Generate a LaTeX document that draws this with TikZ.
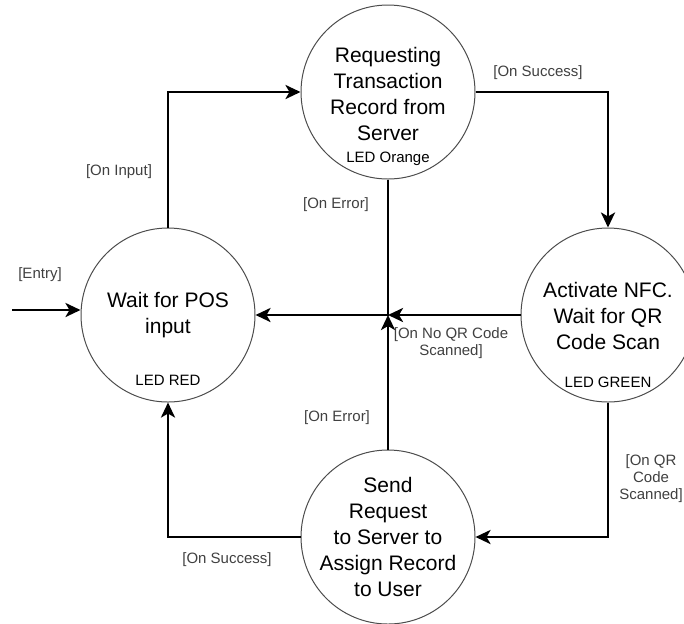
\documentclass[tikz,border=0pt]{standalone}
\usepackage{fontspec}
\setmainfont{Liberation Sans}
\usetikzlibrary{arrows.meta,positioning}

\tikzset{
  state/.style={circle,draw=black!70,line width=0.5pt,minimum size=87pt,inner sep=0pt},
  stext/.style={align=center,inner sep=0pt,font=\fontsize{10.5pt}{13pt}\selectfont},
  led/.style={inner sep=0pt,font=\fontsize{7.5pt}{8.5pt}\selectfont},
  lbl/.style={align=center,inner sep=0pt,text=black!75,font=\fontsize{7.5pt}{8.5pt}\selectfont},
  trans/.style={line width=1.4pt,-{Stealth[length=7.5pt,width=7pt,inset=2pt]}},
}

\begin{document}
\begin{tikzpicture}[x=0.5pt,y=-0.5pt]
        \useasboundingbox (0,0) rectangle (684,623);
        % states
        \node[state] (pos) at (168,315) {};
        \node[stext] (postxt) at (pos) {Wait for POS\\input};
        \node[led] (posled) at (168,380) {LED RED};
        \node[state] (req) at (388,92) {};
        \node[stext] (reqtxt) at (388,94) {Requesting\\Transaction\\Record from\\Server};
        \node[led] (reqled) at (388,159) {LED Orange};
        \node[state] (nfc) at (608,315) {};
        \node[stext] (nfctxt) at (608,316) {Activate NFC.\\Wait for QR\\Code Scan};
        \node[led] (nfcled) at (608,382) {LED GREEN};
        \node[state] (send) at (388,537) {};
        \node[stext] (sendtxt) at (send) {Send\\Request\\to Server to\\Assign Record\\to User};
        \coordinate (entry) at (12,310);
        \coordinate (jn) at (388,315);
        % transitions
        \draw[trans] (entry) -- (entry -| pos.west);
        \draw[trans] (pos.north) |- (req.west);
        \draw[trans] (req.east) -| (nfc.north);
        \draw[trans] (req.south) -- (jn) -- (pos.east);
        \draw[trans] (nfc.west) -- (jn);
        \draw[trans] (send.north) -- (jn);
        \draw[trans] (nfc.south) |- (send.east);
        \draw[trans] (send.west) -| (pos.south);
        % labels
        \node[lbl] (lentry) at (40,275) {[Entry]};
        \node[lbl] (linput) at (119,172) {[On Input]};
        \node[lbl] (lsucc1) at (538,73) {[On Success]};
        \node[lbl] (lerr1) at (336,205) {[On Error]};
        \node[lbl] (lnoqr) at (451,343) {[On No QR Code\\Scanned]};
        \node[lbl] (lerr2) at (337,418) {[On Error]};
        \node[lbl] (lqr) at (651,479) {[On QR\\Code\\Scanned]};
        \node[lbl] (lsucc2) at (227,560) {[On Success]};
\end{tikzpicture}
\end{document}
